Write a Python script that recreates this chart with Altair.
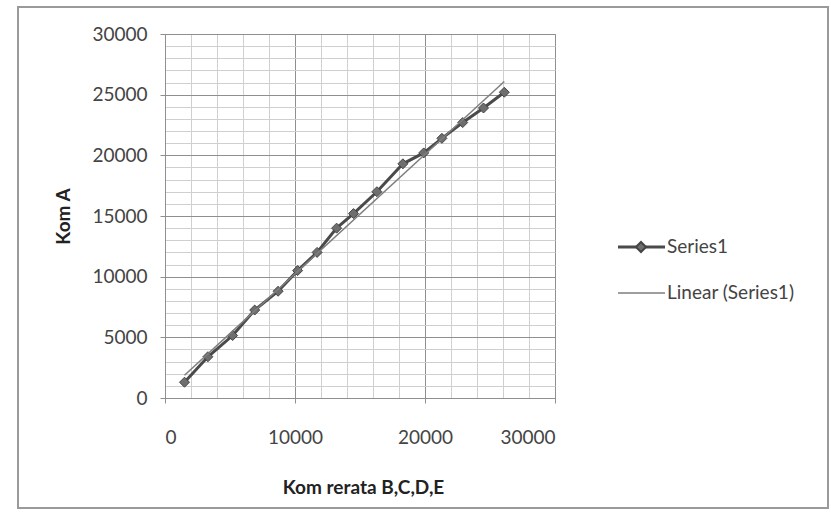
import altair as alt
import pandas as pd

# Data
kom_rerata = [1500, 3300, 5200, 6900, 8700, 10200, 11700, 13200, 14500, 16300,
              18300, 19900, 21300, 22900, 24500, 26100]
kom_a = [1300, 3400, 5150, 7250, 8800, 10500, 12000, 14000, 15200, 17000,
         19300, 20200, 21400, 22700, 23900, 25200]

x_ticks = [0, 2000, 4000, 6000, 8000, 10000, 12000, 14000, 16000, 18000,
           20000, 22000, 24000, 26000, 28000, 30000]
y_ticks = [0, 1000, 2000, 3000, 4000, 5000, 6000, 7000, 8000, 9000, 10000,
           11000, 12000, 13000, 14000, 15000, 16000, 17000, 18000, 19000, 20000,
           21000, 22000, 23000, 24000, 25000, 26000, 27000, 28000, 29000, 30000]

legend_labels = ["Series1", "Linear (Series1)"]
x_title = "Kom rerata B,C,D,E"
y_title = "Kom A"

df = pd.DataFrame({"x": kom_rerata, "y": kom_a})

FONT = "Lato"

xenc = alt.X("x:Q", title=x_title,
             scale=alt.Scale(domain=[0, 30000], nice=False, zero=False),
             axis=alt.Axis(values=x_ticks, format="d",
                           labelExpr="datum.value % 10000 === 0 ? datum.label : ''",
                           gridColor={"condition": {"test": "datum.value % 10000 === 0", "value": "#8f8f8f"}, "value": "#cfcfcf"},
                           tickOpacity={"condition": {"test": "datum.value % 10000 === 0", "value": 1}, "value": 0},
                           labelBaseline="middle", labelPadding=34,
                           titleX=198, titleY=89, titleBaseline="middle", titleAlign="center"))
yenc = alt.Y("y:Q", title=y_title,
             scale=alt.Scale(domain=[0, 30000], nice=False, zero=False),
             axis=alt.Axis(values=y_ticks, format="d",
                           labelExpr="datum.value % 5000 === 0 ? datum.label : ''",
                           gridColor={"condition": {"test": "datum.value % 5000 === 0", "value": "#8f8f8f"}, "value": "#cfcfcf"},
                           tickOpacity={"condition": {"test": "datum.value % 5000 === 0", "value": 1}, "value": 0},
                           labelPadding=13,
                           titleX=-102, titleY=182, titleBaseline="middle", titleAlign="center", titleAngle=-90))

base = alt.Chart(df)

series_line = base.mark_line(color="#4a4a4a", strokeWidth=3).encode(x=xenc, y=yenc)
series_pts = base.mark_point(shape="diamond", filled=True, size=100, color="#6e6e6e",
                             stroke="#454545", strokeWidth=1, opacity=1).encode(x=xenc, y=yenc)
trend = base.transform_regression("x", "y").mark_line(
    color="#7e7e7e", strokeWidth=1.5).encode(x=xenc, y=yenc)

# Legend (drawn manually, Excel style)
leg1 = alt.Chart(pd.DataFrame({"label": [legend_labels[0]]}))
leg2 = alt.Chart(pd.DataFrame({"label": [legend_labels[1]]}))

l1_line = leg1.mark_rule(color="#4a4a4a", strokeWidth=3).encode(
    x=alt.value(453), x2=alt.value(500), y=alt.value(213))
l1_pt = leg1.mark_point(shape="diamond", filled=True, size=100, color="#6e6e6e",
                        stroke="#454545", opacity=1).encode(x=alt.value(476), y=alt.value(213))
l1_txt = leg1.mark_text(align="left", baseline="middle", font=FONT, fontSize=19,
                        color="#444").encode(x=alt.value(502), y=alt.value(213), text="label:N")
l2_line = leg2.mark_rule(color="#7e7e7e", strokeWidth=1.5).encode(
    x=alt.value(453), x2=alt.value(500), y=alt.value(259))
l2_txt = leg2.mark_text(align="left", baseline="middle", font=FONT, fontSize=19,
                        color="#444").encode(x=alt.value(502), y=alt.value(259), text="label:N")

frame = leg1.mark_rect(fill=None, stroke="#9a9a9a", strokeWidth=2).encode(
    x=alt.value(-147), x2=alt.value(663), y=alt.value(-27), y2=alt.value(474))

chart = alt.layer(series_line, series_pts, trend, l1_line, l1_pt, l1_txt, l2_line, l2_txt, frame).properties(
    width=390, height=364,
    autosize=alt.AutoSizeParams(type="none"),
    padding={"left": 165, "top": 34, "right": 276, "bottom": 127},
    background="white",
).configure_view(stroke="#8f8f8f", strokeWidth=1).configure_axis(
    labelFont=FONT, labelFontSize=19, labelColor="#444",
    titleFont=FONT, titleFontSize=19, titleFontWeight="bold", titleColor="#222",
    domainColor="#8f8f8f", tickColor="#8f8f8f", tickSize=5, gridWidth=1,
)

chart.save("out.html", embed_options={"renderer": "svg", "actions": False})
